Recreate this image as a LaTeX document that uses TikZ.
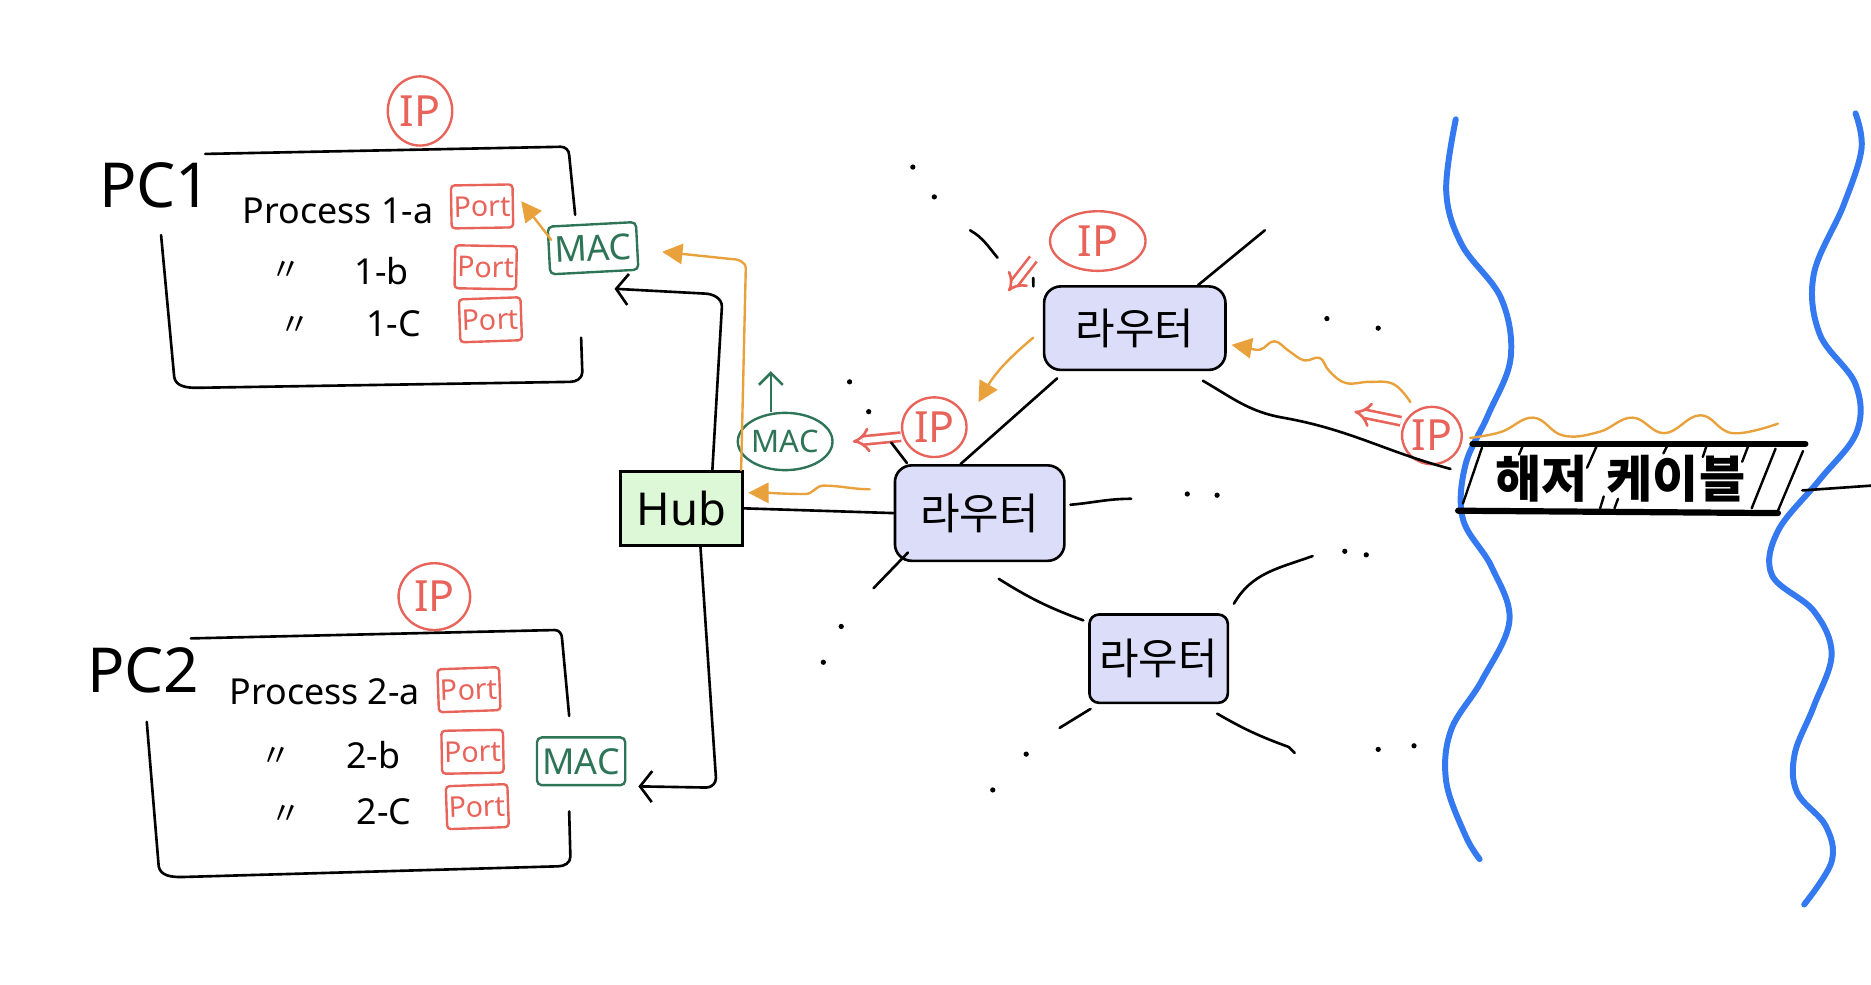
\documentclass[tikz,border=0pt]{standalone}
\usepackage{fontspec}
\setmainfont{Noto Sans}
\newfontfamily\kr{Noto Sans CJK KR}
\usetikzlibrary{arrows.meta,calc,shapes.geometric}
\definecolor{ipred}{HTML}{E8645A}
\definecolor{macgreen}{HTML}{2E7558}
\definecolor{orng}{HTML}{E9A23B}
\definecolor{seablue}{HTML}{3479F0}
\definecolor{lav}{HTML}{DCDDF9}
\definecolor{hubgreen}{HTML}{DDF8D6}
\tikzset{
 ink/.style={line width=1.1pt, line cap=round, line join=round},
 portbox/.style={draw=ipred, text=ipred, line width=1pt, rounded corners=1.5pt, minimum width=25pt, minimum height=18pt, inner sep=1pt, font=\fontsize{12}{12}\selectfont},
 macbox/.style={draw=macgreen, text=macgreen, line width=1pt, rounded corners=2pt, minimum width=37pt, minimum height=20pt, inner sep=1pt, font=\fontsize{15}{15}\selectfont},
 ipcirc/.style={draw=ipred, text=ipred, ellipse, line width=1pt, inner sep=0pt, font=\fontsize{18}{18}\selectfont},
 router/.style={draw, fill=lav, line width=1.1pt, rounded corners=7pt, inner sep=0pt, font=\kr\fontsize{18}{18}\selectfont},
 proctext/.style={font=\fontsize{15}{15}\selectfont, inner sep=0pt},
 ditto/.style={font=\kr\fontsize{13}{13}\selectfont, inner sep=0pt},
 pclabel/.style={font=\fontsize{26}{26}\selectfont, inner sep=0pt},
 orangearrow/.style={draw=orng, line width=1pt, line cap=round, -{Triangle[length=8.5pt,width=8.5pt]}},
 redarrow/.style={draw=ipred, double, double distance=2.4pt, line width=1.1pt, -{Implies[length=8pt]}},
 blackarrow/.style={ink, -{Straight Barb[length=5pt,width=13pt,line width=1.1pt]}},
 greenarrow/.style={draw=macgreen, line width=1.1pt, -{Straight Barb[length=5pt,width=10pt,line width=1.1pt]}},
 sea/.style={draw=seablue, line width=2.5pt, line cap=round},
 cableline/.style={line width=2.6pt, line cap=round},
 hatch/.style={line width=1pt, line cap=round},
 dot/.style={fill=black},
}
\begin{document}
\begin{tikzpicture}[x=0.5pt,y=-0.5pt]
\useasboundingbox (0,0) rectangle (1568,825);

% sea lines
\draw[sea] plot[smooth, tension=0.6] coordinates {(1220,100) (1212,160) (1225,205) (1258,250) (1266,300) (1247,348) (1228,390) (1226,435) (1250,475) (1265,520) (1242,570) (1216,612) (1212,655) (1228,700) (1240,720)};
\draw[sea] plot[smooth, tension=0.6] coordinates {(1555,95) (1560,125) (1545,172) (1520,230) (1525,280) (1555,322) (1556,362) (1525,402) (1490,445) (1485,482) (1520,512) (1535,548) (1520,592) (1504,632) (1506,664) (1530,692) (1535,722) (1512,758)};

% PC1
\node[pclabel] (pc1label) at (130,155) {PC1};
\node[ipcirc, minimum width=27pt, minimum height=29pt] (pc1ip) at (352,93) {IP};
\draw[ink] (172,129) -- (470,123) to[out=0,in=90] (477,130) -- (482,180);
\draw[ink] (135,197) -- (146,316) to[out=-80,in=180] (165,325) -- (478,320) to[out=0,in=-90] (488,312) -- (487,283);
\node[proctext, anchor=west] (p1a) at (203,177) {Process 1-a};
\node[ditto] (d1b) at (240,227) {〃};
\node[proctext] (p1b) at (320,227) {1-b};
\node[ditto] (d1c) at (247,273) {〃};
\node[proctext] (p1c) at (330,271) {1-C};
\node[portbox, rotate=1] (port1a) at (404,173) {Port};
\node[portbox, rotate=-1] (port1b) at (407,224) {Port};
\node[portbox, rotate=2] (port1c) at (411,268) {Port};
\node[macbox, rotate=3] (mac1) at (497,208) {MAC};

% PC2
\node[pclabel] (pc2label) at (120,562) {PC2};
\node[ipcirc, minimum width=30pt, minimum height=28pt] (pc2ip) at (364,500) {IP};
\draw[ink] (160,535) -- (465,528) to[out=0,in=90] (471,535) -- (477,600);
\draw[ink] (123,605) -- (133,726) to[out=-80,in=180] (152,735) -- (468,726) to[out=0,in=-90] (478,718) -- (477,680);
\node[proctext, anchor=west] (p2a) at (192,580) {Process 2-a};
\node[ditto] (d2b) at (231,634) {〃};
\node[proctext] (p2b) at (313,633) {2-b};
\node[ditto] (d2c) at (240,683) {〃};
\node[proctext] (p2c) at (322,680) {2-C};
\node[portbox, rotate=2] (port2a) at (393,578) {Port};
\node[portbox, rotate=1] (port2b) at (396,630) {Port};
\node[portbox, rotate=2] (port2c) at (400,676) {Port};
\node[macbox] (mac2) at (487,638) {MAC};

% Hub
\node[draw, fill=hubgreen, line width=1.1pt, minimum width=51pt, minimum height=31pt, inner sep=0pt, font=\fontsize{19}{19}\selectfont] (hub) at (571,426) {Hub};

% routers
\node[router, minimum width=71pt, minimum height=40pt] (r1) at (821,430) {라우터};
\node[router, minimum width=76pt, minimum height=35pt] (r2) at (951,275) {라우터};
\node[router, minimum width=58pt, minimum height=37pt, rounded corners=4pt] (r3) at (971,552) {라우터};

% IP / MAC labels near routers
\node[ipcirc, minimum width=27pt, minimum height=25pt] (ipr1) at (783,358) {IP};
\node[ipcirc, minimum width=40pt, minimum height=25pt] (iptop) at (920,202) {IP};
\node[ipcirc, minimum width=25pt, minimum height=24pt] (ipcable) at (1200,365) {IP};
\node[draw=macgreen, text=macgreen, ellipse, line width=1pt, inner sep=0pt, minimum width=30pt, minimum height=24pt, font=\fontsize{13}{13}\selectfont] (maccirc) at (658,370) {MAC};

% cable
\node[inner sep=0pt, minimum width=142pt, minimum height=28pt, font=\kr\bfseries\fontsize{21}{21}\selectfont] (cable) at (1358,401) {해저\hspace{8pt}케이블};
\draw[cableline] (1234,372) -- (1513,372);
\draw[cableline] (1222,428) -- (1490,430);
\draw[hatch] (1242,375) -- (1226,422) (1488,376) -- (1468,426) (1511,378) -- (1490,428);
\draw[hatch] (1276,374) -- (1273,381) (1338,374) -- (1330,392) (1344,416) -- (1341,426) (1356,418) -- (1353,426)
      (1397,374) -- (1394,380) (1430,374) -- (1427,383) (1465,374) -- (1460,387);

% connectors: PCs / hub
\draw[ink] (hub.east) -- (r1.west);
\draw[blackarrow] ([xshift=13pt]hub.north) -- (605,257) to[out=90,in=0] (590,246) -- (515,242);
\draw[blackarrow] ([xshift=8pt]hub.south) -- (600,652) to[out=-90,in=0] (592,660) -- ([xshift=5pt]mac2.south east);
\draw[orangearrow] ([xshift=-1pt]hub.north east) -- (625,225) to[out=90,in=0] (612,217) -- ([xshift=10pt,yshift=-2.5pt]mac1.east);
\draw[orangearrow] ([xshift=2pt,yshift=-6pt]mac1.north west) -- ([xshift=3pt,yshift=2pt]port1a.east);
\draw[orangearrow] ([xshift=-10pt,yshift=10pt]r1.west) to[out=180,in=0] (690,407) to[out=180,in=0] (675,414) to[out=180,in=0] ([xshift=2pt,yshift=6.5pt]hub.east);
\draw[greenarrow] ([xshift=-6pt]maccirc.north) -- ++(0,-34);
\draw[redarrow] ([yshift=-4pt]ipr1.west) -- ([xshift=8pt]maccirc.east);

% router-related arrows
\draw[orangearrow] ([xshift=-4pt,yshift=-4pt]r2.west) to[out=-140,in=60] (820,337);
\draw[redarrow] (866,217) -- (845,244);
\draw[orangearrow] plot[smooth, tension=0.7] coordinates {(1182,337) (1168,322) (1148,320) (1128,321) (1114,311) (1106,300) (1093,302) (1080,294) (1068,286) (1056,293) (1044,291) ([xshift=2pt,yshift=-7pt]r2.east)};
\draw[redarrow] ([yshift=6pt]ipcable.west) -- (1135,345);
\draw[draw=orng, line width=1pt, line cap=round] plot[smooth, tension=0.7] coordinates {(1232,367) (1258,362) (1285,350) (1310,365) (1340,362) (1368,350) (1395,363) (1425,348) (1452,363) (1490,355)};

% router links
\draw[ink] ([xshift=-8pt]r1.north) -- ([xshift=6pt,yshift=-3pt]r2.south west);
\draw[ink] ([xshift=-10pt,yshift=-4pt]r2.south east) to[out=-30,in=170] (1075,350) to[out=-10,in=165] ([yshift=4pt]cable.west);
\draw[ink] ([xshift=-12pt]r2.north east) -- (1060,193);
\draw[ink] ([xshift=-4pt,yshift=3pt]r2.north west) -- (866,240);
\draw[ink] (813,193) to[out=-30,in=130] (836,216);
\draw[ink] ([xshift=-1pt,yshift=9pt]r1.north west) -- (760,388);
\draw[ink] ([xshift=2pt,yshift=3.5pt]r1.east) to[out=5,in=180] (948,418);
\draw[ink] ([xshift=6pt,yshift=4pt]r1.south west) -- (732,493);
\draw[ink] ([xshift=8pt,yshift=-7pt]r1.south) to[bend right=6] ([xshift=-2pt,yshift=-3pt]r3.north west);
\draw[ink] ([xshift=2pt,yshift=4pt]r3.north east) to[out=60,in=200] (1100,466);
\draw[ink] ([xshift=1pt,yshift=-2pt]r3.south west) -- (888,610);
\draw[ink] ([xshift=-5pt,yshift=-4pt]r3.south east) to[out=-30,in=160] (1080,626) -- (1085,631);
\draw[ink] ([xshift=5pt,yshift=-5pt]cable.east) -- (1568,407);

% dots
\foreach \p in {(765,140),(783,165),(1112,267),(1155,275),(712,320),(728,345),(995,414),(1020,415),(705,525),(690,555),(1127,462),(1145,465),(860,632),(832,662),(1155,628),(1185,625)}
  \fill[dot] \p circle (1.1pt);
\end{tikzpicture}
\end{document}
